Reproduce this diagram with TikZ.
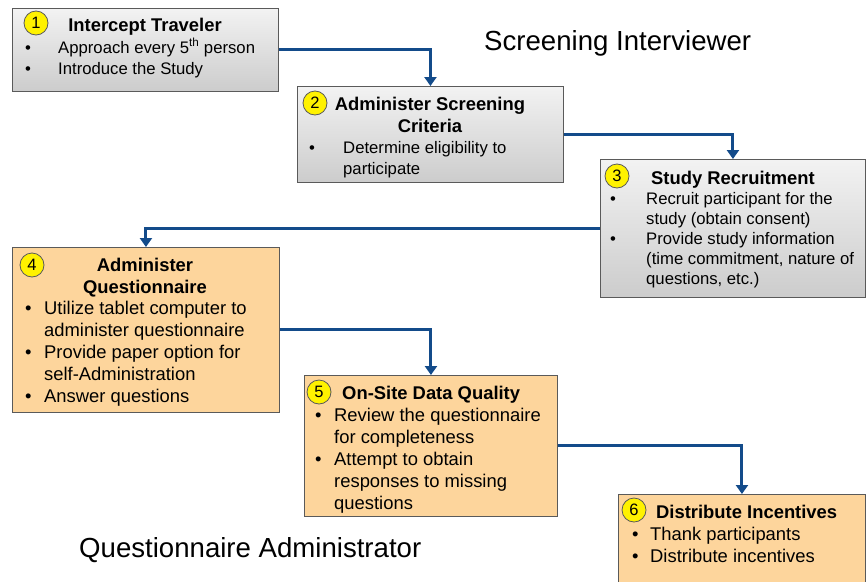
\documentclass[tikz,border=0pt]{standalone}
\usepackage{fontspec}
\setmainfont{Liberation Sans}
\usetikzlibrary{arrows.meta}
\definecolor{flowblue}{HTML}{134B8A}
\definecolor{peach}{HTML}{FDD59C}
\definecolor{edge}{HTML}{5A5A5A}
\tikzset{
  graybox/.style={draw=edge, line width=0.9pt, top color=gray!10, bottom color=gray!40, anchor=north west, inner sep=0pt},
  peachbox/.style={draw=edge, line width=0.9pt, fill=peach, anchor=north west, inner sep=0pt},
  badge/.style={circle, draw=gray!70!black, line width=0.8pt, fill=yellow, minimum size=24pt, inner sep=0pt, font=\fontsize{16.5}{16.5}\selectfont},
  ttl/.style={font=\fontsize{18.4}{18.4}\selectfont\bfseries, inner sep=0pt},
  txt/.style={font=\fontsize{16.7}{16.7}\selectfont, inner sep=0pt, anchor=base west},
  txtb/.style={font=\fontsize{18.4}{18.4}\selectfont, inner sep=0pt, anchor=base west},
  flow/.style={draw=flowblue, line width=3pt, -{Triangle[width=12pt,length=9pt]}},
  heading/.style={font=\fontsize{27.6}{27.6}\selectfont, inner sep=0pt, anchor=base west}
}
\begin{document}
\begin{tikzpicture}[x=1pt,y=-1pt]
\useasboundingbox (0,0) rectangle (866,581);
\fill[white] (0,0) rectangle (866,581);

% boxes
\node[graybox, minimum width=266pt, minimum height=83pt] (b1) at (12,8) {};
\node[graybox, minimum width=266pt, minimum height=96pt] (b2) at (297,86) {};
\node[graybox, minimum width=265pt, minimum height=138pt] (b3) at (600,159) {};
\node[peachbox, minimum width=267pt, minimum height=165pt] (b4) at (12,247) {};
\node[peachbox, minimum width=253pt, minimum height=141pt] (b5) at (304,375) {};
\node[peachbox, minimum width=247pt, minimum height=100pt] (b6) at (618,494) {};

% connectors
\draw[flow] (b1.east) -| (b2.north);
\draw[flow] (b2.east) -| (b3.north);
\draw[flow] (b3.west) -| (b4.north);
\draw[flow] (b4.east) -| (b5.north);
\draw[flow] (b5.east) -| (b6.north);

% step numbers
\node[badge] (n1) at (36,23) {1};
\node[badge] (n2) at (315,103) {2};
\node[badge] (n3) at (617,176) {3};
\node[badge] (n4) at (32,265) {4};
\node[badge] (n5) at (319,392) {5};
\node[badge] (n6) at (634,510) {6};

% box 1
\node[ttl, anchor=base] (t1) at (145,31) {Intercept Traveler};
\node[txt] (d1a) at (25,53) {•};
\node[txt] (l1a) at (58,53) {Approach every 5\textsuperscript{th} person};
\node[txt] (d1b) at (25,74) {•};
\node[txt] (l1b) at (58,74) {Introduce the Study};

% box 2
\node[ttl, anchor=base] (t2a) at (430,110) {Administer Screening};
\node[ttl, anchor=base] (t2b) at (430,132) {Criteria};
\node[txt] (d2a) at (309,153) {•};
\node[txt] (l2a) at (343,153) {Determine eligibility to};
\node[txt] (l2b) at (343,174) {participate};

% box 3
\node[ttl, anchor=base] (t3) at (733,184) {Study Recruitment};
\node[txt] (d3a) at (610,204) {•};
\node[txt] (l3a) at (646,204) {Recruit participant for the};
\node[txt] (l3b) at (646,224) {study (obtain consent)};
\node[txt] (d3b) at (610,244) {•};
\node[txt] (l3c) at (646,244) {Provide study information};
\node[txt] (l3d) at (646,264) {(time commitment, nature of};
\node[txt] (l3e) at (646,284) {questions, etc.)};

% box 4
\node[ttl, anchor=base] (t4a) at (145,271) {Administer};
\node[ttl, anchor=base] (t4b) at (145,293) {Questionnaire};
\node[txtb] (d4a) at (25,314) {•};
\node[txtb] (l4a) at (44,314) {Utilize tablet computer to};
\node[txtb] (l4b) at (44,336) {administer questionnaire};
\node[txtb] (d4b) at (25,358) {•};
\node[txtb] (l4c) at (44,358) {Provide paper option for};
\node[txtb] (l4d) at (44,380) {self-Administration};
\node[txtb] (d4c) at (25,402) {•};
\node[txtb] (l4e) at (44,402) {Answer questions};

% box 5
\node[ttl, anchor=base west] (t5) at (342,399) {On-Site Data Quality};
\node[txtb] (d5a) at (315,421) {•};
\node[txtb] (l5a) at (334,421) {Review the questionnaire};
\node[txtb] (l5b) at (334,443) {for completeness};
\node[txtb] (d5b) at (315,465) {•};
\node[txtb] (l5c) at (334,465) {Attempt to obtain};
\node[txtb] (l5d) at (334,487) {responses to missing};
\node[txtb] (l5e) at (334,509) {questions};

% box 6
\node[ttl, anchor=base west] (t6) at (656,518) {Distribute Incentives};
\node[txtb] (d6a) at (632,540) {•};
\node[txtb] (l6a) at (650,540) {Thank participants};
\node[txtb] (d6b) at (632,562) {•};
\node[txtb] (l6b) at (650,562) {Distribute incentives};

% role headings
\node[heading] (h1) at (484,50) {Screening Interviewer};
\node[heading] (h2) at (79,557) {Questionnaire Administrator};
\end{tikzpicture}
\end{document}
